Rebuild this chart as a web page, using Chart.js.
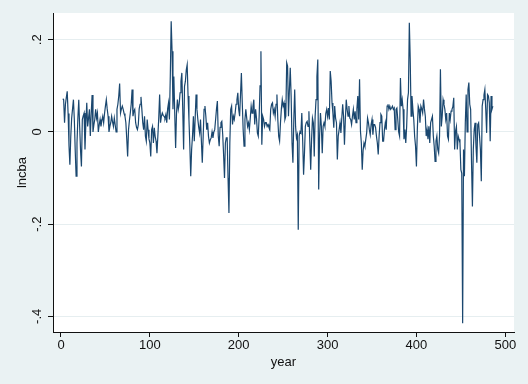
<!DOCTYPE html>
<html><head><meta charset="utf-8">
<script src="https://cdn.jsdelivr.net/npm/chart.js@4"></script>
<style>html,body{margin:0;padding:0;background:#EAF2F3}canvas{display:block}</style>
</head><body>
<div style="width:528px;height:384px"><canvas id="c" width="528" height="384"></canvas></div>
<script>
// ---- DATA ----
const startYear = 2;
const lncba = [
/*2-9*/     0.072,0.070,0.020,0.060,0.075,0.088,0.040,-0.030,
/*10*/ -0.071,-0.010,0.030,0.050,0.070,0.027,-0.040,-0.096,-0.024,0.030,
/*20*/ 0.070,0.012,-0.040,-0.075,0.027,0.035,0.041,-0.038,0.020,0.063,
/*30*/ 0.012,0.030,0.049,-0.009,0.040,0.080,0.000,0.015,0.027,0.049,
/*40*/ 0.030,0.041,0.000,0.015,0.027,0.012,0.025,0.034,0.020,0.040,
/*50*/ 0.056,0.070,0.050,0.034,0.000,0.012,0.020,0.034,0.022,0.012,
/*60*/ 0.030,0.015,0.000,0.049,0.060,0.078,0.105,0.041,0.050,0.056,
/*70*/ 0.049,0.040,0.034,0.020,-0.015,-0.053,0.005,0.025,0.041,0.060,
/*80*/ 0.092,0.034,0.045,0.049,0.020,0.010,0.005,0.016,0.050,0.060,
/*90*/ 0.076,0.049,0.020,0.005,0.034,-0.009,-0.020,0.027,0.005,-0.015,
/*100*/ -0.024,-0.053,0.005,0.012,-0.024,0.009,-0.010,-0.020,-0.046,-0.009,
/*110*/ 0.030,0.081,0.020,0.034,0.041,0.036,0.034,0.030,0.038,0.020,
/*120*/ 0.050,0.063,0.027,0.121,0.240,0.175,0.049,0.120,0.040,-0.035,
/*130*/ 0.041,0.070,0.049,0.060,0.085,0.110,0.128,0.049,-0.038,0.099,
/*140*/ 0.110,0.135,0.146,0.078,0.027,-0.030,-0.096,-0.038,-0.009,0.034,
/*150*/ -0.020,0.030,0.081,0.049,0.027,0.010,-0.002,0.027,-0.020,-0.067,
/*160*/ -0.010,0.049,0.056,0.034,0.005,0.020,-0.010,-0.024,-0.017,-0.013,
/*170*/ 0.000,-0.013,0.000,0.005,0.027,0.050,0.067,-0.009,-0.031,0.010,
/*180*/ 0.020,0.023,-0.006,-0.050,-0.100,-0.024,-0.013,-0.013,-0.100,-0.176,
/*190*/ -0.024,0.049,0.056,0.016,0.034,0.027,0.041,0.060,0.070,0.085,
/*200*/ 0.049,0.034,0.080,0.128,0.063,0.005,-0.031,0.027,0.049,0.030,
/*210*/ 0.012,0.020,0.005,0.030,0.056,0.041,0.055,0.070,0.016,0.049,
/*220*/ 0.030,-0.002,-0.009,0.034,0.100,0.175,-0.028,0.034,0.027,0.012,
/*230*/ 0.020,0.020,0.012,0.016,0.010,0.005,0.049,0.060,0.063,0.041,
/*240*/ 0.049,0.034,0.060,0.081,0.027,-0.010,-0.020,0.020,0.050,0.070,
/*250*/ 0.056,0.063,0.027,0.034,0.150,0.143,0.034,0.090,0.139,0.078,
/*260*/ -0.024,-0.067,0.027,0.092,0.012,-0.013,-0.006,-0.212,-0.009,0.001,
/*270*/ -0.002,0.041,-0.020,-0.093,-0.046,0.012,0.020,0.023,0.012,0.045,
/*280*/ -0.020,-0.082,-0.017,0.030,0.020,-0.053,0.034,0.070,0.120,0.157,
/*290*/ -0.125,-0.009,0.041,0.012,-0.046,0.012,0.020,0.012,0.040,0.049,
/*300*/ 0.034,0.052,0.027,0.132,0.110,0.063,0.041,0.009,0.056,0.030,
/*310*/ 0.020,-0.060,-0.009,0.005,0.020,-0.002,0.030,0.060,0.034,-0.028,
/*320*/ 0.027,0.070,0.049,0.034,0.056,0.030,0.027,0.016,0.034,0.049,
/*330*/ 0.027,0.045,0.020,0.050,0.078,0.027,0.114,0.002,-0.024,-0.082,
/*340*/ -0.040,-0.024,-0.031,-0.016,-0.002,0.030,0.020,0.005,-0.006,0.016,
/*350*/ 0.027,-0.006,0.016,0.016,0.010,-0.009,-0.024,-0.049,-0.009,0.020,
/*360*/ 0.038,0.034,-0.020,-0.020,0.005,0.020,0.005,0.056,0.060,0.049,
/*370*/ 0.056,0.049,0.052,0.056,0.049,0.052,0.005,0.049,0.052,0.027,
/*380*/ 0.000,-0.009,0.117,0.056,0.070,0.049,-0.016,0.005,-0.024,0.012,
/*390*/ 0.070,0.085,0.237,0.158,0.034,0.078,0.049,0.027,-0.010,-0.031,
/*400*/ -0.075,0.005,0.056,0.049,0.020,0.056,0.050,0.041,0.070,0.050,
/*410*/ 0.034,-0.009,0.005,-0.016,0.012,-0.024,0.020,0.027,0.034,-0.009,
/*420*/ -0.031,-0.064,-0.020,-0.009,-0.038,-0.046,-0.009,0.136,0.012,0.034,
/*430*/ 0.070,0.060,0.049,0.027,0.041,-0.009,-0.016,0.041,0.027,0.045,
/*440*/ 0.049,0.055,0.074,-0.038,0.002,0.012,-0.038,-0.009,-0.016,-0.024,
/*450*/ -0.082,-0.090,-0.415,-0.038,-0.096,0.020,0.081,0.000,0.092,0.107,
/*460*/ 0.060,0.049,-0.067,-0.162,-0.038,0.005,0.020,-0.030,-0.067,0.016,
/*470*/ 0.020,-0.009,-0.038,-0.107,0.056,0.070,0.080,0.092,0.049,-0.002,
/*480*/ 0.081,0.078,0.063,-0.020,0.078,0.049,0.056
];
const xTickValues = [0, 100, 200, 300, 400, 500];
const yTickValues = [-0.4, -0.2, 0, 0.2];
const yTickLabels = ['-.4', '-.2', '0', '.2'];
const xTitle = 'year';
const yTitle = 'lncba';

// ---- CHART ----
const points = lncba.map((v, i) => ({ x: startYear + i, y: v }));
const FONT = { family: '"Liberation Sans", Arial, sans-serif', size: 13 };
const INK = '#111';

const bgPlugin = {
  id: 'bg',
  beforeDraw(chart) {
    const { ctx, chartArea: a } = chart;
    ctx.save();
    ctx.fillStyle = '#EAF2F3';
    ctx.fillRect(0, 0, chart.width, chart.height);
    ctx.fillStyle = '#FFFFFF';
    ctx.fillRect(a.left, a.top, a.right - a.left, a.bottom - a.top);
    ctx.restore();
  }
};

new Chart(document.getElementById('c'), {
  type: 'line',
  data: {
    datasets: [{
      data: points,
      borderColor: '#1A476F',
      borderWidth: 1.2,
      pointRadius: 0,
      tension: 0,
      fill: false
    }]
  },
  options: {
    responsive: false,
    animation: false,
    devicePixelRatio: 1,
    layout: { padding: { left: 0, right: 14, top: 13, bottom: 0 } },
    plugins: { legend: { display: false }, tooltip: { enabled: false } },
    scales: {
      x: {
        type: 'linear',
        min: -9,
        max: 509.8,
        afterFit: s => { s.height = 52; },
        afterBuildTicks: s => { s.ticks = xTickValues.map(v => ({ value: v })); },
        ticks: { font: FONT, color: INK, padding: 1, maxRotation: 0, autoSkip: false,
                 callback: v => String(v) },
        grid: { drawOnChartArea: false, tickLength: 5, color: INK, tickColor: INK },
        border: { color: INK, width: 1 },
        title: { display: true, text: xTitle, font: FONT, color: INK, padding: { top: 0, bottom: 14 } }
      },
      y: {
        type: 'linear',
        min: -0.434,
        max: 0.258,
        afterFit: s => { s.width = 53; },
        afterBuildTicks: s => { s.ticks = yTickValues.map(v => ({ value: v })); },
        ticks: { font: FONT, color: INK, padding: 2.5, minRotation: 90, maxRotation: 90,
                 crossAlign: 'center', autoSkip: false,
                 callback: v => yTickLabels[yTickValues.indexOf(v)] },
        grid: { color: '#E6EEF0', tickColor: INK, tickLength: 5, lineWidth: 1 },
        border: { color: INK, width: 1 },
        title: { display: true, text: yTitle, font: FONT, color: INK, padding: { top: 14.5, bottom: 0 } }
      }
    }
  },
  plugins: [bgPlugin]
});
</script>
</body></html>
